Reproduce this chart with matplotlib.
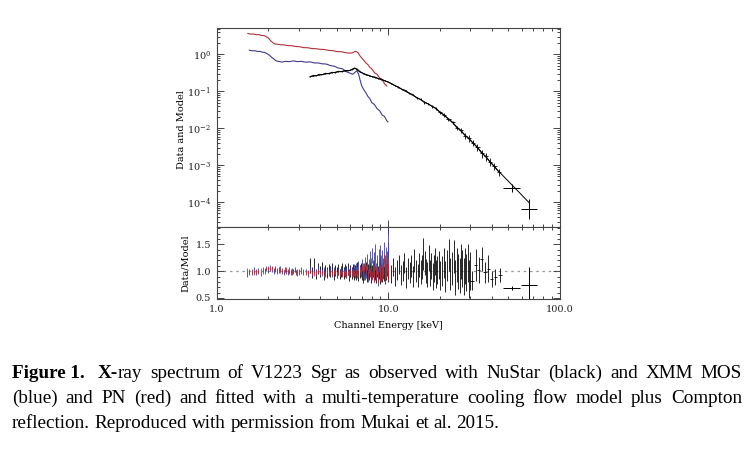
import numpy as np
import matplotlib
matplotlib.use("Agg")
import matplotlib.pyplot as plt
from matplotlib import ticker

# ================= top panel: spectra =================
# XMM PN (red)
pn_e = [1.52, 1.58, 1.64, 1.70, 1.76, 1.82, 1.88, 1.94, 2.00, 2.06, 2.12, 2.18,
        2.25, 2.35, 2.45, 2.6, 2.75, 2.9, 3.05, 3.2, 3.4, 3.6, 3.8, 4.0, 4.25,
        4.5, 4.75, 5.0, 5.3, 5.6, 5.9, 6.15, 6.35, 6.5, 6.65, 6.8, 7.0, 7.2,
        7.4, 7.6, 7.8, 8.0, 8.3, 8.6, 8.9, 9.2, 9.5, 9.8]
pn_flux = [3.7, 3.55, 3.58, 3.42, 3.45, 3.28, 3.25, 3.05, 2.8, 2.35, 2.1, 1.92,
           1.9, 1.83, 1.82, 1.74, 1.72, 1.64, 1.62, 1.53, 1.52, 1.44, 1.43, 1.38, 1.36,
           1.29, 1.27, 1.2, 1.19, 1.12, 1.09, 1.1, 1.19, 1.2, 1.12, 0.95, 0.8, 0.69,
           0.59, 0.53, 0.45, 0.41, 0.32, 0.29, 0.23, 0.21, 0.16, 0.14]

# XMM MOS (blue)
mos_e = [1.55, 1.61, 1.67, 1.73, 1.79, 1.85, 1.91, 1.97, 2.03, 2.09, 2.15, 2.22,
         2.3, 2.4, 2.5, 2.65, 2.8, 2.95, 3.1, 3.3, 3.5, 3.7, 3.9, 4.1, 4.35,
         4.6, 4.85, 5.1, 5.4, 5.7, 6.0, 6.2, 6.4, 6.55, 6.7, 6.85, 7.0, 7.2,
         7.4, 7.6, 7.8, 8.0, 8.3, 8.6, 8.9, 9.2, 9.5, 9.8, 9.95]
mos_flux = [1.3, 1.26, 1.26, 1.2, 1.21, 1.15, 1.13, 1.04, 0.95, 0.84, 0.76, 0.67,
            0.65, 0.62, 0.65, 0.64, 0.67, 0.64, 0.65, 0.62, 0.63, 0.59, 0.59, 0.56, 0.55,
            0.5, 0.48, 0.43, 0.41, 0.34, 0.31, 0.29, 0.33, 0.36, 0.3, 0.2, 0.14, 0.11,
            0.092, 0.073, 0.064, 0.05, 0.044, 0.034, 0.03, 0.023, 0.021, 0.016, 0.015]

# NuSTAR (black)
nu_e = [3.5, 3.65, 3.8, 3.95, 4.1, 4.3, 4.5, 4.7, 4.9, 5.1,
        5.35, 5.6, 5.85, 6.1, 6.35, 6.6, 6.85, 7.1, 7.4, 7.7,
        8.0, 8.35, 8.7, 9.1, 9.5, 9.9, 10.4, 10.9, 11.4, 12.0,
        12.6, 13.2, 13.9, 14.6, 15.4, 16.2, 17.1, 18.0, 19.0, 20.0,
        21.2, 22.4, 23.7, 25.0, 26.5, 28.0, 29.5, 31.0, 33.0, 35.0,
        37.0, 39.0, 41.5, 44.0]
nu_flux = [0.25, 0.27, 0.265, 0.29, 0.28, 0.31, 0.3, 0.33, 0.32, 0.35,
           0.34, 0.37, 0.36, 0.39, 0.43, 0.4, 0.34, 0.31, 0.28, 0.27,
           0.25, 0.245, 0.225, 0.215, 0.195, 0.18, 0.163, 0.143, 0.132, 0.115,
           0.106, 0.09, 0.082, 0.067, 0.061, 0.05, 0.046, 0.039, 0.035, 0.027,
           0.023, 0.0175, 0.0145, 0.0105, 0.0088, 0.0064, 0.0054, 0.0041, 0.0031, 0.0021,
           0.00175, 0.00125, 0.00093, 0.00066]
nu_ferr = [0.02, 0.02, 0.02, 0.02, 0.02, 0.02, 0.02, 0.02, 0.02, 0.02,
           0.02, 0.02, 0.02, 0.02, 0.02, 0.02, 0.02, 0.03, 0.03, 0.03,
           0.03, 0.03, 0.03, 0.03, 0.03, 0.03, 0.04, 0.04, 0.04, 0.04,
           0.05, 0.05, 0.05, 0.06, 0.06, 0.06, 0.07, 0.07, 0.08, 0.09,
           0.1, 0.11, 0.12, 0.13, 0.15, 0.17, 0.19, 0.2, 0.22, 0.24,
           0.25, 0.25, 0.22, 0.2]

# two wide high-energy bins
big_e = [52.3, 66.0]
big_elo = [46.8, 59.3]
big_ehi = [58.5, 73.6]
big_flux = [2.5e-4, 6.6e-5]
big_flo = [1.9e-4, 3.5e-5]
big_fhi = [3.2e-4, 1.25e-4]
big_ratio = [0.68, 0.75]
big_rlo = [0.64, 0.43]
big_rhi = [0.72, 1.07]

# continuum model through the NuSTAR points
model_e = [3.5, 5.0, 6.0, 6.4, 6.8, 7.5, 10.0, 14.6, 18.3, 22.9, 27.3, 32.7, 42.8, 52.3, 66.0]
model_f = [0.25, 0.335, 0.37, 0.42, 0.34, 0.28, 0.18, 0.069, 0.038, 0.0168, 0.0073,
           0.0032, 7.8e-4, 3.0e-4, 9.8e-5]

# ================= bottom panel: residuals =================
xmm_res_e = [1.50, 1.55, 1.60, 1.65, 1.70, 1.75, 1.80, 1.85, 1.90, 1.95,
             2.00, 2.05, 2.10, 2.15, 2.20, 2.25, 2.30, 2.35, 2.40, 2.45,
             2.50, 2.55, 2.60, 2.65, 2.70, 2.75, 2.80, 2.85, 2.90, 2.95, 3.00,
             3.1, 3.2, 3.3, 3.4, 3.5, 3.6, 3.7, 3.8, 3.9, 4.0,
             4.1, 4.2, 4.3, 4.4, 4.5, 4.6, 4.7, 4.8, 4.9, 5.0,
             5.1, 5.2, 5.3, 5.4, 5.5, 5.6, 5.7, 5.8, 5.9, 6.0,
             6.1, 6.2, 6.3, 6.4, 6.5, 6.6, 6.7, 6.8, 6.9, 7.0,
             7.1, 7.2, 7.3, 7.4, 7.5, 7.6, 7.7, 7.8, 7.9, 8.0,
             8.1, 8.2, 8.3, 8.4, 8.5, 8.6, 8.7, 8.8, 8.9, 9.0,
             9.1, 9.2, 9.3, 9.4, 9.5, 9.6, 9.7, 9.8, 9.9, 10.0]
pn_ratio = [1.02, 0.97, 1.0, 0.96, 1.01, 0.99, 1.03, 0.98, 1.02, 1.05,
            1.06, 1.04, 1.07, 1.03, 1.05, 1.02, 1.04, 1.0, 1.03, 0.99,
            1.02, 1.04, 1.0, 0.98, 1.01, 0.97, 1.0, 1.02, 0.98, 1.0, 0.97,
            0.99, 1.01, 0.96, 0.98, 1.0, 0.97, 0.95, 0.99, 1.0, 0.96,
            0.98, 0.94, 0.97, 1.0, 0.96, 0.98, 0.95, 0.99, 0.97, 0.94,
            0.98, 0.96, 1.0, 0.95, 0.97, 0.99, 0.93, 0.97, 0.96, 1.0,
            0.94, 0.98, 0.96, 0.92, 0.99, 1.02, 0.95, 1.04, 0.97, 1.06,
            0.95, 1.08, 0.9, 1.02, 1.1, 0.93, 1.05, 0.98, 1.15, 0.92,
            1.07, 1.0, 0.9, 1.12, 0.97, 1.05, 0.88, 1.1, 1.0, 0.93,
            1.18, 0.95, 1.05, 1.2, 0.9, 1.08, 1.0, 1.15, 0.95, 1.1]
pn_rerr = [0.04, 0.04, 0.04, 0.04, 0.035, 0.035, 0.035, 0.035, 0.035, 0.035,
           0.035, 0.035, 0.035, 0.035, 0.035, 0.035, 0.035, 0.035, 0.035, 0.035,
           0.035, 0.035, 0.035, 0.035, 0.035, 0.035, 0.035, 0.035, 0.035, 0.035, 0.035,
           0.04, 0.04, 0.04, 0.04, 0.04, 0.04, 0.04, 0.04, 0.04, 0.04,
           0.04, 0.04, 0.04, 0.04, 0.045, 0.045, 0.045, 0.045, 0.045, 0.045,
           0.045, 0.045, 0.045, 0.05, 0.05, 0.05, 0.05, 0.05, 0.05, 0.05,
           0.055, 0.055, 0.055, 0.055, 0.055, 0.06, 0.06, 0.06, 0.06, 0.06,
           0.07, 0.07, 0.07, 0.07, 0.08, 0.08, 0.08, 0.08, 0.09, 0.09,
           0.09, 0.09, 0.1, 0.1, 0.1, 0.1, 0.11, 0.11, 0.11, 0.11,
           0.12, 0.12, 0.12, 0.12, 0.13, 0.13, 0.13, 0.14, 0.14, 0.15]
mos_ratio = [0.95, 1.0, 0.97, 1.02, 0.98, 1.01, 0.96, 1.03, 1.0, 1.05,
             1.02, 1.06, 1.03, 1.0, 1.04, 0.99, 1.02, 1.05, 1.0, 0.97,
             1.03, 1.0, 0.98, 1.02, 0.97, 1.01, 0.99, 1.03, 0.98, 0.96, 1.0,
             1.02, 0.97, 1.0, 0.95, 1.03, 0.98, 1.01, 0.96, 1.04, 0.99,
             0.97, 1.02, 0.95, 1.0, 0.98, 1.03, 0.96, 1.01, 0.99, 0.95,
             1.02, 0.98, 1.04, 0.97, 1.0, 0.96, 1.03, 0.99, 0.95, 1.02,
             1.0, 0.97, 1.05, 0.99, 1.08, 0.96, 1.1, 1.02, 0.98, 1.12,
             1.05, 0.95, 1.15, 1.0, 1.2, 0.92, 1.1, 1.25, 0.98, 1.3,
             1.05, 0.95, 1.2, 1.35, 1.0, 1.15, 0.9, 1.25, 1.1, 1.3,
             0.98, 1.2, 1.05, 1.35, 1.1, 1.0, 1.25, 1.15, 1.3, 1.55]
mos_rerr = [0.05, 0.05, 0.05, 0.05, 0.05, 0.05, 0.05, 0.05, 0.05, 0.05,
            0.05, 0.05, 0.05, 0.05, 0.05, 0.05, 0.05, 0.05, 0.05, 0.05,
            0.05, 0.05, 0.05, 0.05, 0.05, 0.05, 0.05, 0.05, 0.05, 0.05, 0.05,
            0.05, 0.05, 0.05, 0.05, 0.05, 0.05, 0.05, 0.05, 0.055, 0.055,
            0.055, 0.055, 0.055, 0.055, 0.06, 0.06, 0.06, 0.06, 0.06, 0.06,
            0.065, 0.065, 0.065, 0.065, 0.07, 0.07, 0.07, 0.07, 0.07, 0.075,
            0.075, 0.075, 0.08, 0.08, 0.08, 0.085, 0.085, 0.09, 0.09, 0.1,
            0.1, 0.11, 0.11, 0.12, 0.12, 0.12, 0.13, 0.13, 0.14, 0.14,
            0.15, 0.15, 0.15, 0.16, 0.16, 0.16, 0.17, 0.17, 0.18, 0.18,
            0.18, 0.19, 0.19, 0.2, 0.2, 0.2, 0.21, 0.22, 0.24, 0.3]

nu_res_e = [3.5, 3.6, 3.7, 3.8, 3.9, 4.0, 4.1, 4.2, 4.3, 4.4,
            4.5, 4.6, 4.7, 4.8, 4.9, 5.0, 5.1, 5.2, 5.3, 5.4,
            5.5, 5.6, 5.7, 5.8, 5.9, 6.0, 6.1, 6.2, 6.3, 6.4,
            6.5, 6.6, 6.7, 6.8, 6.9, 7.0, 7.1, 7.2, 7.3, 7.4,
            7.5, 7.6, 7.7, 7.8, 7.9, 8.0, 8.1, 8.2, 8.3, 8.4,
            8.5, 8.6, 8.7, 8.8, 8.9, 9.0, 9.1, 9.2, 9.3, 9.4,
            9.5, 9.6, 9.7, 9.8, 9.9, 10.0,
            10.3, 10.6, 10.9, 11.2, 11.5, 11.8, 12.1, 12.4, 12.7, 13.0,
            13.3, 13.6, 13.9, 14.2, 14.5, 14.8, 15.1, 15.4, 15.7, 16.0,
            16.3, 16.6, 16.9, 17.2, 17.5, 17.8, 18.1, 18.4, 18.7, 19.0,
            19.3, 19.6, 19.9,
            20.5, 21.0, 21.5, 22.0, 22.5, 23.0, 23.5, 24.0, 24.5, 25.0,
            25.5, 26.0, 26.5, 27.0, 27.5, 28.0, 28.5, 29.0, 29.5, 30.0]
nu_ratio = [1.1, 0.98, 1.12, 0.95, 1.05, 1.0, 1.08, 0.93, 1.02, 0.97,
            1.04, 0.99, 1.06, 0.94, 1.01, 0.97, 1.03, 0.95, 1.0, 1.05,
            0.96, 1.02, 0.98, 1.04, 0.93, 1.0, 0.97, 1.03, 0.95, 1.01,
            0.94, 1.06, 0.92, 0.99, 1.03, 0.96, 0.9, 1.02, 0.97, 1.05,
            0.93, 1.0, 0.96, 1.04, 0.91, 0.98, 1.02, 0.94, 1.06, 0.97,
            0.92, 1.03, 0.95, 1.0, 0.9, 1.05, 0.97, 0.93, 1.02, 0.96,
            1.04, 0.91, 0.98, 1.06, 0.94, 0.99,
            0.95, 1.08, 0.9, 1.02, 1.12, 0.93, 1.0, 1.15, 0.88, 1.05,
            0.97, 1.1, 0.9, 1.2, 1.0, 0.92, 1.12, 0.98, 1.08, 1.32,
            1.15, 1.0, 0.94, 1.25, 0.97, 1.1, 0.9, 1.05, 1.18, 0.95,
            1.02, 1.12, 0.92,
            1.0, 1.15, 0.9, 1.1, 1.3, 0.95, 1.05, 1.28, 0.88, 1.12,
            1.0, 0.92, 1.18, 1.05, 0.9, 1.1, 0.98, 1.15, 0.85, 1.0]
nu_rerr = [0.14, 0.1, 0.12, 0.1, 0.1, 0.1, 0.1, 0.1, 0.1, 0.1,
           0.1, 0.1, 0.1, 0.1, 0.1, 0.1, 0.1, 0.1, 0.1, 0.1,
           0.11, 0.11, 0.11, 0.11, 0.11, 0.11, 0.11, 0.11, 0.11, 0.11,
           0.11, 0.11, 0.11, 0.12, 0.12, 0.12, 0.12, 0.12, 0.12, 0.12,
           0.13, 0.13, 0.13, 0.13, 0.13, 0.13, 0.13, 0.13, 0.13, 0.13,
           0.14, 0.14, 0.14, 0.14, 0.14, 0.14, 0.14, 0.14, 0.14, 0.14,
           0.15, 0.15, 0.15, 0.15, 0.15, 0.15,
           0.17, 0.17, 0.17, 0.18, 0.18, 0.18, 0.19, 0.19, 0.19, 0.2,
           0.2, 0.2, 0.2, 0.21, 0.21, 0.21, 0.22, 0.22, 0.22, 0.3,
           0.23, 0.23, 0.23, 0.24, 0.24, 0.24, 0.25, 0.25, 0.25, 0.26,
           0.26, 0.26, 0.27,
           0.28, 0.28, 0.29, 0.29, 0.3, 0.3, 0.31, 0.31, 0.32, 0.32,
           0.33, 0.33, 0.33, 0.34, 0.34, 0.34, 0.35, 0.35, 0.35, 0.35]

# sparse NuSTAR bins above 30 keV
sp_e = [30.8, 32.2, 33.6, 35.0, 36.6, 38.2, 40.0, 42.0, 44.5]
sp_de = [0.7, 0.7, 0.7, 0.7, 0.8, 0.8, 0.9, 1.0, 1.2]
sp_ratio = [0.82, 1.12, 1.02, 1.23, 0.98, 1.05, 0.86, 0.9, 0.93]
sp_rerr = [0.18, 0.3, 0.25, 0.22, 0.2, 0.25, 0.15, 0.15, 0.13]

caption = [
    [[("Figure 1.", "bold")], [("X-", "bold"), ("ray", "normal")], "spectrum", "of",
     "V1223", "Sgr", "as", "observed", "with", "NuStar", "(black)", "and", "XMM", "MOS"],
    ["(blue)", "and", "PN", "(red)", "and", "fitted", "with", "a", "multi-temperature",
     "cooling", "flow", "model", "plus", "Compton"],
    ["reflection.", "Reproduced", "with", "permission", "from", "Mukai", "et", "al.", "2015."],
]

RED = "#b0303c"
BLUE = "#3c3c8e"
FRAME = "#444444"
plt.rcParams["font.family"] = "DejaVu Serif"
plt.rcParams["mathtext.fontset"] = "dejavuserif"
plt.rcParams["mathtext.default"] = "regular"

W, H = 756, 457
fig = plt.figure(figsize=(W / 100, H / 100), dpi=100)

left, right = 216.7, 560.0
ax1 = fig.add_axes([left / W, 1 - 227.3 / H, (right - left) / W, (227.3 - 27.7) / H])
ax2 = fig.add_axes([left / W, 1 - 299.0 / H, (right - left) / W, (299.0 - 227.3) / H],
                   sharex=ax1)

# ---- top panel ----
ax1.plot(pn_e, pn_flux, color=RED, lw=0.8)
ax1.plot(mos_e, mos_flux, color=BLUE, lw=0.8)
ne = np.array(nu_e)
nf = np.array(nu_flux)
half = np.gradient(ne) / 2
half[ne < 20] = 0
ax1.errorbar(ne, nf, yerr=nf * np.array(nu_ferr), xerr=half, color="black", lw=0.7,
             elinewidth=0.6, capsize=0)
ax1.plot(model_e, model_f, color="black", lw=0.7)
be = np.array(big_e)
bf = np.array(big_flux)
ax1.errorbar(be, bf, xerr=[be - np.array(big_elo), np.array(big_ehi) - be],
             yerr=[bf - np.array(big_flo), np.array(big_fhi) - bf],
             fmt="none", ecolor="black", elinewidth=0.7, capsize=0)

ax1.set_xscale("log")
ax1.set_yscale("log")
ax1.set_xlim(1, 100)
ax1.set_ylim(2.1e-5, 5.3)
ax1.yaxis.set_major_locator(ticker.FixedLocator([1e-4, 1e-3, 1e-2, 1e-1, 1]))
ax1.yaxis.set_minor_locator(ticker.LogLocator(base=10, subs=np.arange(2, 10), numticks=20))
ax1.yaxis.set_major_formatter(ticker.FuncFormatter(
    lambda v, p: "10$^{%d}$" % int(round(np.log10(v)))))
ax1.yaxis.set_minor_formatter(ticker.NullFormatter())
ax1.tick_params(labelbottom=False)
ax1.set_ylabel("Data and Model", fontsize=7)
ax1.yaxis.set_label_coords(-0.088, 0.49)

# ---- residual panel ----
ax2.axhline(1.0, color="#999999", lw=0.9, ls=(0, (2, 3)), zorder=0)
ax2.errorbar(nu_res_e, nu_ratio, yerr=nu_rerr, fmt="none", ecolor="black",
             elinewidth=0.7, capsize=0, alpha=0.85)
ax2.errorbar(sp_e, sp_ratio, xerr=sp_de, yerr=sp_rerr, fmt="none", ecolor="black",
             elinewidth=0.7, capsize=0, alpha=0.85)
ax2.errorbar(xmm_res_e, mos_ratio, yerr=mos_rerr, fmt="none", ecolor=BLUE,
             elinewidth=0.7, capsize=0, alpha=0.85)
ax2.errorbar(xmm_res_e, pn_ratio, yerr=pn_rerr, fmt="none", ecolor=RED,
             elinewidth=0.7, capsize=0, alpha=0.85)
br = np.array(big_ratio)
ax2.errorbar(be, br, xerr=[be - np.array(big_elo), np.array(big_ehi) - be],
             yerr=[br - np.array(big_rlo), np.array(big_rhi) - br],
             fmt="none", ecolor="black", elinewidth=0.7, capsize=0)
ax2.set_ylim(0.48, 1.82)
ax2.yaxis.set_major_locator(ticker.FixedLocator([0.5, 1.0, 1.5]))
ax2.yaxis.set_minor_locator(ticker.MultipleLocator(0.1))
ax2.yaxis.set_major_formatter(ticker.FormatStrFormatter("%.1f"))
ax2.xaxis.set_major_locator(ticker.FixedLocator([1, 10, 100]))
ax2.xaxis.set_minor_locator(ticker.LogLocator(base=10, subs=np.arange(2, 10), numticks=10))
ax2.xaxis.set_major_formatter(ticker.FixedFormatter(["1.0", "10.0", "100.0"]))
ax2.xaxis.set_minor_formatter(ticker.NullFormatter())
ax2.set_ylabel("Data/Model", fontsize=7)
ax2.yaxis.set_label_coords(-0.078, 0.5)
ax2.set_xlabel("Channel Energy [keV]", fontsize=7)
ax2.xaxis.set_label_coords(0.5, -0.3)

for ax in (ax1, ax2):
    for s in ax.spines.values():
        s.set_color(FRAME)
        s.set_linewidth(0.8)
    ax.tick_params(which="both", direction="in", top=True, right=True,
                   colors=FRAME, labelcolor="#222222", labelsize=7, width=0.7)
    ax.tick_params(which="major", length=5, pad=4)
    ax.tick_params(which="minor", length=2.5)

# ---- caption, justified ----
renderer = fig.canvas.get_renderer()
x0, x1 = 12.0, 742.0
baselines = [378.0, 403.0, 428.0]
for li, words in enumerate(caption):
    items = []
    for w in words:
        pieces = [(w, "normal")] if isinstance(w, str) else w
        objs = []
        for txt, weight in pieces:
            t = fig.text(0, 1 - baselines[li] / H, txt, fontsize=13.8, weight=weight,
                         family="Liberation Serif", va="baseline", ha="left")
            objs.append(t)
        items.append(objs)
    widths = [[t.get_window_extent(renderer).width for t in objs] for objs in items]
    total = sum(sum(w) for w in widths)
    extra = 5.0 if li == 0 else 0.0
    if li < len(caption) - 1:
        gap = (x1 - x0 - total - extra) / (len(items) - 1)
    else:
        gap = 4.6
    x = x0
    for k, (objs, ws) in enumerate(zip(items, widths)):
        for t, wpx in zip(objs, ws):
            t.set_x(x / W)
            x += wpx
        x += gap
        if li == 0 and k == 0:
            x += extra

fig.savefig("out.png", dpi=100)
